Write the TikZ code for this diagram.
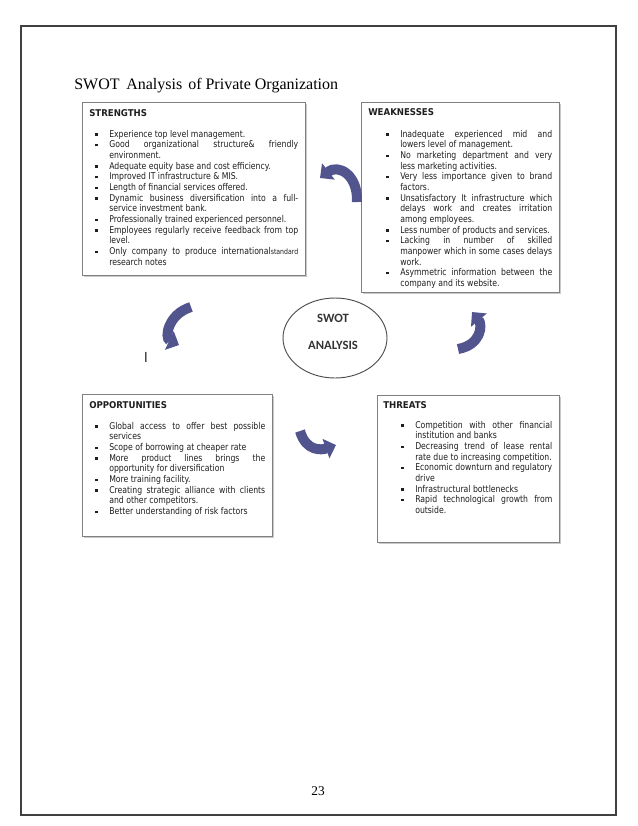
\documentclass[tikz,border=0pt]{standalone}
\usepackage{fontspec}
\setmainfont{Liberation Serif}
\newfontfamily\boxfont[FakeStretch=0.83]{DejaVu Sans}
\newfontfamily\headfont[FakeStretch=0.92]{DejaVu Sans}
\newfontfamily\ellfont{Carlito}
\newfontfamily\markfont{Liberation Sans}
\usetikzlibrary{arrows.meta,shadows,shapes.geometric}
\definecolor{boxline}{RGB}{128,128,128}
\definecolor{arrowc}{RGB}{82,84,142}
\definecolor{arrowl}{RGB}{112,114,170}
\definecolor{txt}{RGB}{30,30,30}
\newcommand\bul{\rule[0.9pt]{1.8pt}{1.8pt}}
\newlength\bA \newlength\bB \newlength\bW
\newcommand\BL[1]{\makebox[\bA][l]{\hspace*{\bB}\bul}#1}
\newcommand\IL[1]{\hspace*{\bA}#1}
\newcommand\JS[1]{\makebox[\bW][s]{#1}}
\newcommand\HD[1]{{\headfont\bfseries #1}}
\newcommand\boxtext{\boxfont\fontsize{7}{8}\selectfont}
\tikzset{
  swbox/.style={draw=boxline, line width=0.9pt, fill=white, inner sep=0pt, anchor=north west,
    drop shadow={shadow xshift=1.1pt, shadow yshift=-1.1pt, opacity=0.3, fill=black!70}},
  swtext/.style={inner sep=0pt, anchor=base west, text=txt},
  curvarrow/.style={draw=arrowc, line width=7.5pt, -{Triangle[width=15pt,length=8pt]}},
  ellword/.style={font=\ellfont\bfseries\fontsize{9.5}{11}\selectfont, text=black!80, inner sep=0pt},
}
\begin{document}
\begin{tikzpicture}[x=0.75pt,y=-0.75pt]
\useasboundingbox (0,0) rectangle (638,826);
% page frame
\draw[black!75, line width=0.8pt] (21,26) rectangle (616,815);
% title
\node[anchor=base west, inner sep=0pt, font=\fontsize{12}{14}\selectfont] (title) at (74,89)
  {SWOT\hspace{2pt} Analysis\hspace{1.5pt} of Private Organization};
% boxes
\node[swbox, minimum width=167.25pt, minimum height=129.75pt] (sbox) at (82,102) {};
\node[swbox, minimum width=148.5pt, minimum height=142.5pt] (wbox) at (361,102) {};
\node[swbox, minimum width=142.5pt, minimum height=106.5pt] (obox) at (82,394) {};
\node[swbox, minimum width=136.5pt, minimum height=110.25pt] (tbox) at (377,395) {};
% strengths
\node[swtext] (stext) at (89,116) {\parbox[t]{160pt}{\boxtext
\setlength\bA{15pt}\setlength\bB{4.5pt}\setlength\bW{141.75pt}%
\HD{STRENGTHS}\\[7.75pt]
\BL{Experience top level management.}\\
\BL{\JS{Good organizational structure\& friendly}}\\
\IL{environment.}\\
\BL{Adequate equity base and cost efficiency.}\\
\BL{Improved IT infrastructure \& MIS.}\\
\BL{Length of financial services offered.}\\
\BL{\JS{Dynamic business diversification into a full-}}\\
\IL{service investment bank.}\\
\BL{Professionally trained experienced personnel.}\\
\BL{\JS{Employees regularly receive feedback from top}}\\
\IL{level.}\\
\BL{\JS{Only company to produce international{\fontsize{5.6}{6}\selectfont standard}}}\\[0.6pt]
\IL{research notes}}};
% weaknesses
\node[swtext] (wtext) at (368,115) {\parbox[t]{142pt}{\boxtext
\setlength\bA{24pt}\setlength\bB{13.5pt}\setlength\bW{114pt}%
\HD{WEAKNESSES}\\[8.5pt]
\BL{\JS{Inadequate experienced mid and}}\\
\IL{lowers level of management.}\\
\BL{\JS{No marketing department and very}}\\
\IL{less marketing activities.}\\
\BL{\JS{Very less importance given to brand}}\\
\IL{factors.}\\
\BL{\JS{Unsatisfactory It infrastructure which}}\\
\IL{\JS{delays work and creates irritation}}\\
\IL{among employees.}\\
\BL{Less number of products and services.}\\
\BL{\JS{Lacking in number of skilled}}\\
\IL{\JS{manpower which in some cases delays}}\\
\IL{work.}\\
\BL{\JS{Asymmetric information between the}}\\
\IL{company and its website.}}};
% opportunities
\node[swtext] (otext) at (89,408) {\parbox[t]{136pt}{\boxtext
\setlength\bA{15pt}\setlength\bB{4.5pt}\setlength\bW{117pt}%
\HD{OPPORTUNITIES}\\[7.75pt]
\BL{\JS{Global access to offer best possible}}\\
\IL{services}\\
\BL{Scope of borrowing at cheaper rate}\\
\BL{\JS{More product lines brings the}}\\
\IL{opportunity for diversification}\\
\BL{More training facility.}\\
\BL{\JS{Creating strategic alliance with clients}}\\
\IL{and other competitors.}\\
\BL{Better understanding of risk factors}}};
% threats
\node[swtext] (ttext) at (383,408) {\parbox[t]{130pt}{\boxtext
\setlength\bA{24pt}\setlength\bB{13.5pt}\setlength\bW{102.75pt}%
\HD{THREATS}\\[7pt]
\BL{\JS{Competition with other financial}}\\
\IL{institution and banks}\\
\BL{\JS{Decreasing trend of lease rental}}\\
\IL{rate due to increasing competition.}\\
\BL{\JS{Economic downturn and regulatory}}\\
\IL{drive}\\
\BL{Infrastructural bottlenecks}\\
\BL{\JS{Rapid technological growth from}}\\
\IL{outside.}}};
% centre ellipse
\node[ellipse, draw=black!70, line width=0.7pt, minimum width=78pt, minimum height=60pt, inner sep=0pt] (swot) at (335,338) {};
\node[ellword] (swotA) at (333,318) {SWOT};
\node[ellword] (swotB) at (333,345) {ANALYSIS};
% arrows
\coordinate (a1s) at (357,202); \coordinate (a1c1) at (358,174); \coordinate (a1c2) at (338,164); \coordinate (a1e) at (320,178);
\draw[curvarrow] (a1s) .. controls (a1c1) and (a1c2) .. (a1e);
\coordinate (a2s) at (191,307); \coordinate (a2c1) at (168,314); \coordinate (a2c2) at (164,338); \coordinate (a2e) at (179,345);
\draw[curvarrow] (a2s) .. controls (a2c1) and (a2c2) .. (a2e);
\coordinate (a3s) at (458,349); \coordinate (a3c1) at (481,345); \coordinate (a3c2) at (483,325); \coordinate (a3e) at (472,312);
\draw[curvarrow] (a3s) .. controls (a3c1) and (a3c2) .. (a3e);
\coordinate (a4s) at (300,431); \coordinate (a4c1) at (306,452) ; \coordinate (a4c2) at (322,450); \coordinate (a4e) at (336,445);
\draw[curvarrow] (a4s) .. controls (a4c1) and (a4c2) .. (a4e);
% stray mark
\node[font=\markfont\fontsize{11}{12}\selectfont, text=black!80, inner sep=0pt] (mark) at (146,357) {I};
% page number
\node[font=\fontsize{10}{12}\selectfont, inner sep=0pt] (pnum) at (318,791) {23};
\end{tikzpicture}
\end{document}
